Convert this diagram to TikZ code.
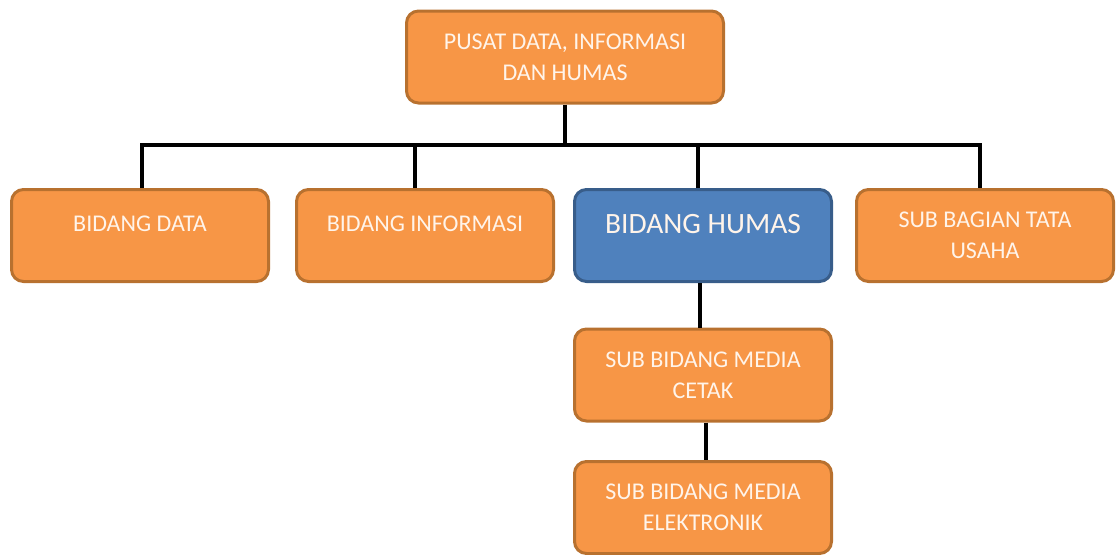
\documentclass[tikz,border=0pt]{standalone}
\usepackage{fontspec}
\setmainfont{Carlito}
\usepackage{tikz}
\definecolor{oranje}{HTML}{F79646}
\definecolor{oranjerand}{HTML}{B8712F}
\definecolor{blauw}{HTML}{4F81BD}
\definecolor{blauwrand}{HTML}{385D8A}
\definecolor{boxtekst}{HTML}{FFF4EA}
\tikzset{
  box/.style={draw=oranjerand, fill=oranje, line width=3pt, rounded corners=12pt,
    minimum width=257pt, minimum height=92pt, align=center, text=boxtekst,
    font=\fontsize{24}{31}\selectfont},
  oneline/.style={text height=16pt, text depth=23.5pt},
  link/.style={line width=4pt}
}

\begin{document}
\begin{tikzpicture}[x=1pt,y=-1pt]
\useasboundingbox (0,0) rectangle (1116,554);
\node[box, minimum width=317pt] (pusat) at (565,57) {PUSAT DATA, INFORMASI\\DAN HUMAS};
\node[box, oneline] (data) at (140,235.5) {BIDANG DATA};
\node[box, oneline] (info) at (425,235.5) {BIDANG INFORMASI};
\node[box, draw=blauwrand, fill=blauw, font=\fontsize{29.5}{31}\selectfont,
  text height=19pt, text depth=23pt] (humas) at (703,235.5) {BIDANG HUMAS};
\node[box] (tu) at (985,235.5) {SUB BAGIAN TATA\\USAHA};
\node[box] (cetak) at (703,375) {SUB BIDANG MEDIA\\CETAK};
\node[box] (elektronik) at (703,507.5) {SUB BIDANG MEDIA\\ELEKTRONIK};
\coordinate (bus) at (565,145);
\draw[link] (pusat.south) -- (bus);
\draw[link] ([xshift=2pt]data.north) |- (bus) -| ([xshift=-5pt]tu.north);
\draw[link] ([xshift=-10pt]info.north) -- ([xshift=-10pt]info.north |- bus);
\draw[link] ([xshift=-5pt]humas.north) -- ([xshift=-5pt]humas.north |- bus);
\draw[link] ([xshift=-3pt]humas.south) -- ([xshift=-3pt]cetak.north);
\draw[link] ([xshift=3pt]cetak.south) -- ([xshift=3pt]elektronik.north);
\end{tikzpicture}
\end{document}
